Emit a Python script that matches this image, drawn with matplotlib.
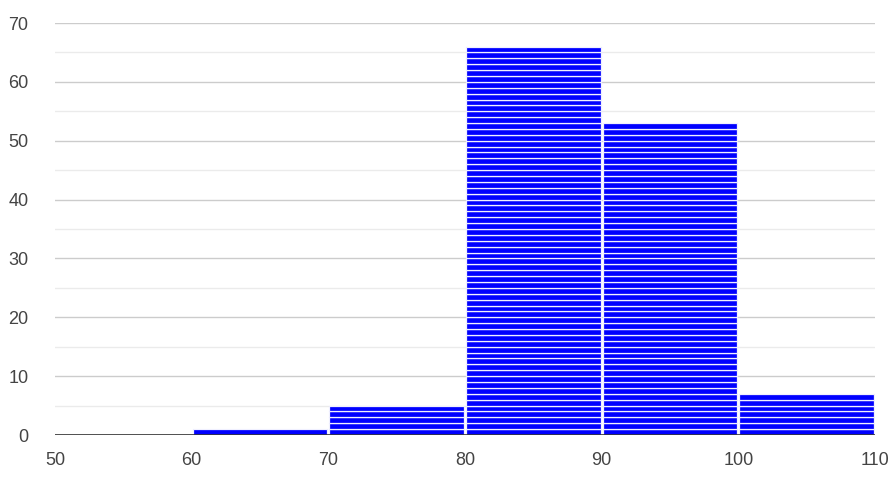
import matplotlib
matplotlib.use("Agg")
import matplotlib.pyplot as plt
import numpy as np

bin_edges = [50, 60, 70, 80, 90, 100, 110]
counts = [0, 1, 5, 66, 53, 7]

plt.rcParams["font.family"] = ["Liberation Sans", "DejaVu Sans"]

fig = plt.figure(figsize=(8.92, 4.78), dpi=100)
ax = fig.add_axes([55 / 892, 43 / 478, 820 / 892, 412 / 478])

# one block per item, stacked up inside its bin
lefts, bottoms = [], []
for left, n in zip(bin_edges[:-1], counts):
    for k in range(n):
        lefts.append(left + 0.08)
        bottoms.append(k)
ax.bar(lefts, 1, width=9.84, bottom=bottoms, align="edge",
       color="#0000ff", edgecolor="#f0f0ff", linewidth=0.9, zorder=3)

ax.set_xlim(50, 110)
ax.set_ylim(0, 70)
ax.set_xticks(bin_edges)
ax.set_yticks(np.arange(0, 71, 10))
ax.set_yticks(np.arange(5, 70, 10), minor=True)
ax.grid(True, axis="y", which="major", color="#cccccc", linewidth=1, zorder=0)
ax.grid(True, axis="y", which="minor", color="#ebebeb", linewidth=1, zorder=0)
ax.axhline(0, color="#333333", linewidth=1.2, zorder=4)

for s in ax.spines.values():
    s.set_visible(False)
ax.tick_params(which="both", length=0, labelsize=13, labelcolor="#444444")
ax.tick_params(axis="y", pad=19)
ax.tick_params(axis="x", pad=12)

fig.savefig("out.png", dpi=100)
